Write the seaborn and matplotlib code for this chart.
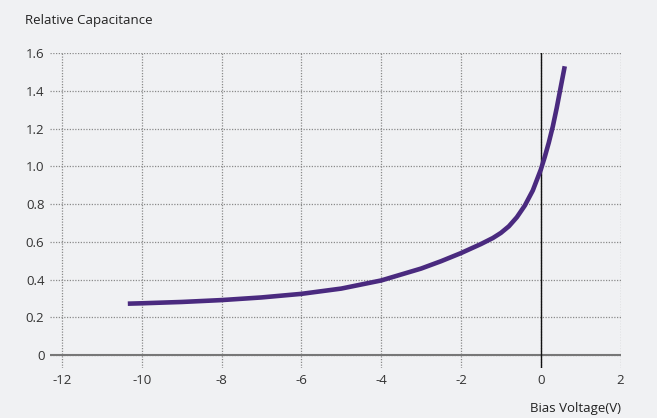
import pandas as pd
import numpy as np
import seaborn as sns
from matplotlib import pyplot as plt

# values
bias_v = [-10.35, -10, -9, -8, -7, -6, -5, -4, -3, -2.5, -2, -1.5, -1.2, -1.0,
          -0.8, -0.6, -0.4, -0.2, 0, 0.1, 0.2, 0.3, 0.4, 0.5, 0.6]
rel_cap = [0.272, 0.274, 0.281, 0.291, 0.305, 0.324, 0.352, 0.395, 0.458, 0.497,
           0.54, 0.588, 0.62, 0.647, 0.682, 0.73, 0.792, 0.872, 0.982, 1.05,
           1.125, 1.21, 1.31, 1.42, 1.53]
x_ticks = [-12, -10, -8, -6, -4, -2, 0, 2]
y_ticks = [0, 0.2, 0.4, 0.6, 0.8, 1.0, 1.2, 1.4, 1.6]
y_tick_labels = ['0', '0.2', '0.4', '0.6', '0.8', '1.0', '1.2', '1.4', '1.6']

df = pd.DataFrame({'bias': bias_v, 'cap': rel_cap})

bg = '#f0f1f3'
sns.set_theme(style="white")
plt.rcParams['font.family'] = ['Open Sans', 'DejaVu Sans']
plt.rcParams['axes.unicode_minus'] = False

fig = plt.figure(figsize=(6.57, 4.18), dpi=100, facecolor=bg)
ax = fig.add_axes([0.0761, 0.1191, 0.8685, 0.754])
ax.set_facecolor(bg)

ax.set_xlim(-12.3, 2)
ax.set_ylim(-0.07, 1.6)
ax.set_xticks(x_ticks)
ax.set_yticks(y_ticks)
ax.set_yticklabels(y_tick_labels)
ax.grid(True, color='#8a8a8a', linestyle=(0, (1, 1.2)), linewidth=0.9)
ax.set_axisbelow(True)
for s in ax.spines.values():
    s.set_visible(False)
ax.tick_params(length=0, labelsize=9.5, labelcolor='#333333', pad=4)

ax.axhline(0, color='#777777', linewidth=1.5, zorder=2)
ax.axvline(0, color='#111111', linewidth=1.0, zorder=2)

sns.lineplot(data=df, x='bias', y='cap', color='#4a2a7f', linewidth=3.3,
             ax=ax, zorder=3, solid_capstyle='butt')
ax.set_xlabel('')
ax.set_ylabel('')

fig.text(0.038, 0.952, 'Relative Capacitance', fontsize=9.5, color='#222222',
         ha='left', va='center')
fig.text(0.945, 0.022, 'Bias Voltage(V)', fontsize=9.5, color='#222222',
         ha='right', va='center')

plt.savefig('out.png', dpi=100, facecolor=bg)
